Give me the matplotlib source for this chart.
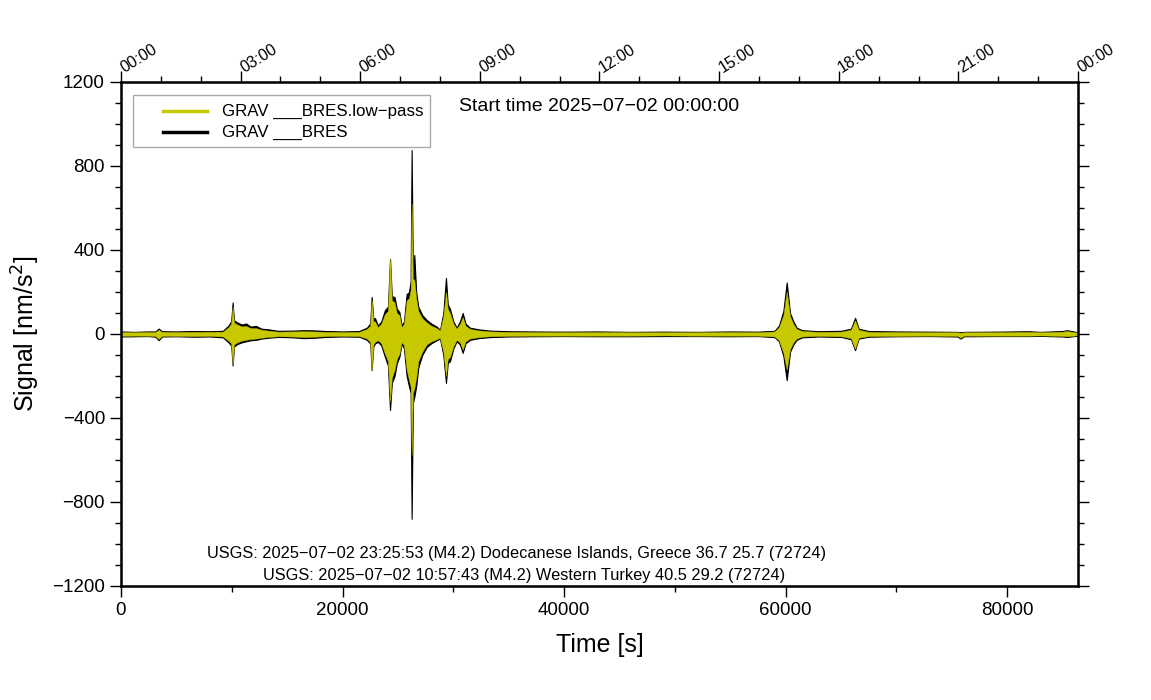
import matplotlib
matplotlib.use('Agg')
import matplotlib.pyplot as plt
import matplotlib.transforms as mtransforms
from matplotlib.ticker import MultipleLocator, FixedLocator
from matplotlib.patches import Rectangle

plt.rcParams['font.family'] = ['Liberation Sans', 'DejaVu Sans']

# envelope of the trace: time [s], black max/min, low-pass max/min [nm/s2]
t_s = [0, 1200, 2400, 3100, 3400, 3700, 5000, 6500, 8000, 9200, 9700, 9950,
       10080, 10200, 10500, 10900, 11300, 11700, 12200, 12700, 13300, 14200,
       15500, 16500, 17500, 18500, 20000, 21500, 22200, 22500, 22630, 22780,
       22930, 23200, 23500, 23830, 24100, 24290, 24450, 24700, 24900, 25130,
       25340, 25550, 25790, 26000, 26150, 26240, 26350, 26480, 26650, 26840,
       27200, 27600, 28000, 28500, 28800, 29100, 29340, 29500, 29700, 30000,
       30300, 30600, 30850, 31100, 31500, 32300, 33300, 35000, 37000, 40000,
       43000, 46000, 49000, 52000, 55000, 57500, 59000, 59400, 59800, 60100,
       60400, 60700, 61000, 61500, 63000, 65000, 65900, 66270, 66600, 67500,
       70000, 73000, 75500, 75800, 76100, 79000, 82000, 83000, 85000, 85400,
       86400]
black_max = [12, 10, 12, 12, 26, 13, 12, 14, 13, 15, 40, 60,
             150, 65, 55, 45, 50, 35, 38, 25, 22, 15,
             16, 18, 17, 14, 12, 14, 30, 50, 176, 70,
             76, 40, 60, 114, 130, 357, 180, 176, 120, 105,
             40, 60, 190, 200, 250, 876, 300, 376, 200, 130,
             90, 67, 50, 35, 20, 100, 267, 140, 120, 60,
             30, 60, 100, 50, 30, 22, 16, 13, 12, 11,
             12, 10, 11, 10, 12, 11, 15, 40, 110, 245,
             100, 60, 30, 18, 13, 15, 25, 77, 25, 14,
             12, 11, 10, 8, 10, 11, 13, 10, 14, 18,
             8]
black_min = [-12, -11, -10, -13, -30, -12, -11, -13, -12, -16, -40, -55,
             -150, -60, -48, -40, -35, -30, -28, -22, -18, -14,
             -16, -20, -18, -14, -12, -13, -28, -45, -172, -60,
             -45, -38, -55, -110, -150, -362, -233, -200, -140, -110,
             -45, -70, -200, -250, -280, -880, -330, -300, -250, -160,
             -100, -62, -45, -30, -22, -100, -233, -138, -130, -70,
             -35, -50, -90, -45, -28, -20, -15, -12, -11, -10,
             -11, -11, -10, -10, -11, -10, -15, -35, -105, -220,
             -85, -50, -28, -16, -12, -14, -25, -77, -22, -13,
             -11, -10, -12, -22, -11, -10, -10, -9, -12, -14,
             -8]
lp_max = [9, 8, 9, 9, 20, 10, 9, 10, 10, 11, 32, 50,
          130, 55, 45, 36, 38, 28, 28, 20, 16, 11,
          12, 13, 12, 10, 9, 10, 24, 40, 160, 60,
          60, 32, 50, 95, 110, 357, 160, 150, 100, 90,
          32, 50, 160, 170, 210, 623, 260, 260, 170, 110,
          75, 55, 40, 28, 16, 85, 200, 120, 100, 50,
          25, 48, 80, 40, 24, 17, 12, 10, 9, 8,
          9, 8, 8, 8, 9, 8, 12, 32, 90, 202,
          85, 48, 24, 14, 10, 11, 20, 65, 20, 10,
          9, 8, 8, 6, 8, 8, 10, 8, 11, 14,
          6]
lp_min = [-9, -8, -8, -10, -24, -9, -9, -10, -9, -12, -32, -45,
          -145, -50, -40, -32, -28, -24, -22, -18, -14, -11,
          -12, -15, -13, -10, -9, -10, -22, -38, -170, -50,
          -38, -30, -45, -95, -130, -320, -210, -170, -120, -95,
          -38, -55, -170, -220, -250, -576, -280, -260, -210, -130,
          -85, -50, -36, -25, -18, -85, -200, -120, -110, -60,
          -28, -40, -75, -36, -22, -15, -11, -9, -8, -8,
          -8, -8, -7, -8, -8, -8, -12, -30, -90, -170,
          -72, -40, -22, -12, -9, -11, -20, -70, -18, -10,
          -9, -8, -9, -18, -8, -8, -8, -7, -9, -11,
          -6]

top_ticks = [0, 10800, 21600, 32400, 43200, 54000, 64800, 75600, 86400]
top_labels = ['00:00', '03:00', '06:00', '09:00', '12:00', '15:00', '18:00', '21:00', '00:00']

yellow = '#c8c800'

fig = plt.figure(figsize=(11.51, 7.0), dpi=100)
ax = fig.add_axes([0.1051, 0.1629, 0.8315, 0.72])

ax.fill_between(t_s, black_min, black_max, color='black', linewidth=0.8, edgecolor='black')
ax.fill_between(t_s, lp_min, lp_max, color=yellow, linewidth=0.3, edgecolor=yellow)

ax.set_xlim(0, 86400)
ax.set_ylim(-1200, 1200)
ax.xaxis.set_major_locator(MultipleLocator(20000))
ax.xaxis.set_minor_locator(MultipleLocator(10000))
ax.yaxis.set_major_locator(MultipleLocator(400))
ax.yaxis.set_minor_locator(MultipleLocator(100))
ax.tick_params(which='both', direction='out', right=True, labelright=False, width=1)
ax.tick_params(which='major', length=8, labelsize=13.5)
ax.tick_params(which='minor', length=4)
for sp in ax.spines.values():
    sp.set_linewidth(1.8)

ax.set_xlabel('Time [s]', fontsize=18, labelpad=10)
ax.set_ylabel('Signal [nm/s$^2$]', fontsize=18, labelpad=7)

top = ax.twiny()
top.set_xlim(0, 86400)
top.xaxis.set_major_locator(FixedLocator(top_ticks))
top.xaxis.set_minor_locator(MultipleLocator(3600))
top.set_xticklabels(top_labels, rotation=32, ha='left', va='bottom', rotation_mode='anchor')
top.tick_params(which='major', length=8, labelsize=11.5, width=1, pad=1)
top.tick_params(which='minor', length=4, width=1)
# shift the rotated hour labels a little right/down, as in the GMT plot
shift = mtransforms.ScaledTranslation(5 / 100, -6 / 100, fig.dpi_scale_trans)
for lab in top.get_xticklabels():
    lab.set_transform(lab.get_transform() + shift)

# legend box drawn by hand (GMT style)
ax.add_patch(Rectangle((0.0125, 0.871), 0.3104, 0.103, transform=ax.transAxes,
                       facecolor='white', edgecolor='#aaaaaa', linewidth=1, zorder=5))
ax.plot([0.0439, 0.0899], [0.9425, 0.9425], transform=ax.transAxes, color=yellow, lw=2.5, zorder=6)
ax.plot([0.0439, 0.0899], [0.9008, 0.9008], transform=ax.transAxes, color='black', lw=2.5, zorder=6)
ax.text(0.1055, 0.9425, 'GRAV ___BRES.low\u2212pass', transform=ax.transAxes,
        ha='left', va='center', fontsize=12.2, zorder=6)
ax.text(0.1055, 0.9008, 'GRAV ___BRES', transform=ax.transAxes,
        ha='left', va='center', fontsize=12.2, zorder=6)

ax.text(0.50, 0.952, 'Start time 2025\u221207\u221202 00:00:00', transform=ax.transAxes,
        ha='center', va='center', fontsize=14)
ax.text(0.413, 0.065, 'USGS: 2025\u221207\u221202 23:25:53 (M4.2) Dodecanese Islands, Greece 36.7 25.7 (72724)',
        transform=ax.transAxes, ha='center', va='center', fontsize=11.8)
ax.text(0.421, 0.020, 'USGS: 2025\u221207\u221202 10:57:43 (M4.2) Western Turkey 40.5 29.2 (72724)',
        transform=ax.transAxes, ha='center', va='center', fontsize=11.8)

fig.savefig('out.png', dpi=100)
